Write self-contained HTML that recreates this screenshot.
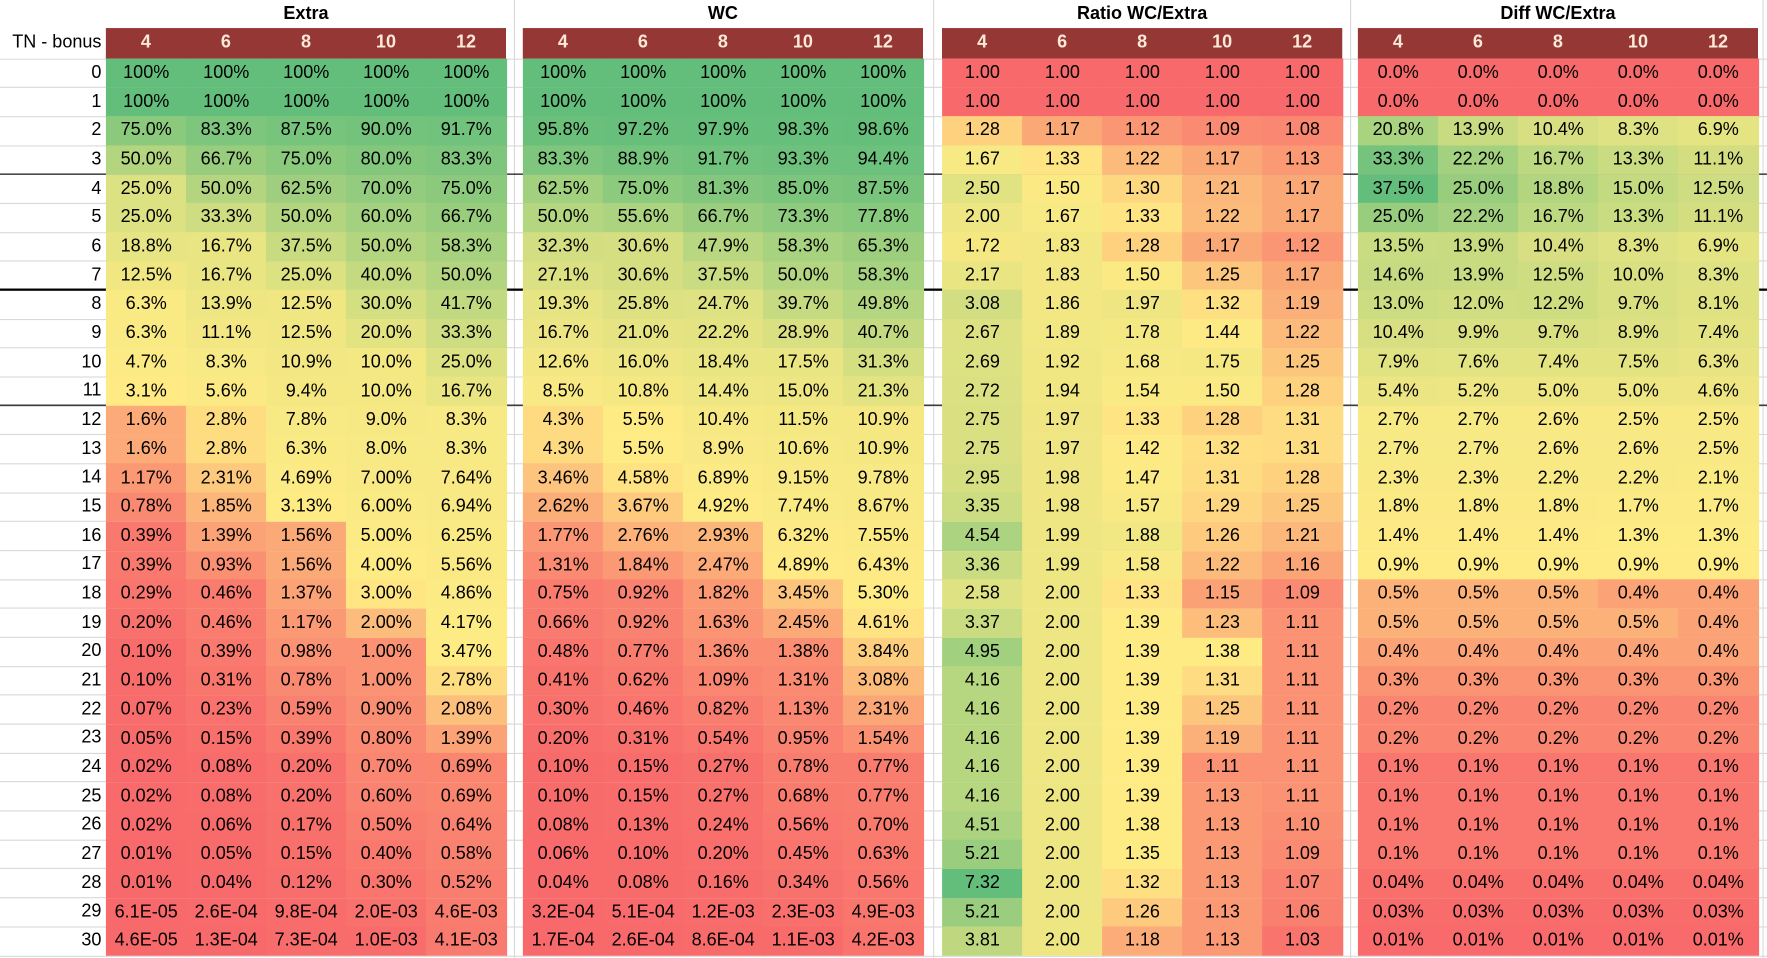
<!DOCTYPE html>
<html><head><meta charset="utf-8"><style>
html,body{margin:0;padding:0;background:#fff;overflow:hidden}
#wrap{width:1767px;height:958px;position:relative;overflow:hidden}
#t{position:absolute;left:0;top:0;width:1568px;height:850px;transform-origin:0 0;transform:scale(1.12691,1.12706);font-family:"Liberation Sans",sans-serif;color:#000}
.c{position:absolute;box-sizing:border-box;font-size:16px;display:flex;align-items:center;justify-content:center;white-space:nowrap}
.h{background:#953735;color:#fde9d9;font-weight:bold;font-size:16px}
.ttl{font-weight:bold;font-size:16px}
.ln{position:absolute}
</style></head><body>
<div id="wrap"><div id="t"></div></div>
<script>
const sections = ["Extra","WC","Ratio WC/Extra","Diff WC/Extra"];
const bonuses = ["4","6","8","10","12"];
const tnRows = [0,1,2,3,4,5,6,7,8,9,10,11,12,13,14,15,16,17,18,19,20,21,22,23,24,25,26,27,28,29,30];
const extraVals = [
"100% 100% 100% 100% 100%","100% 100% 100% 100% 100%",
"75.0% 83.3% 87.5% 90.0% 91.7%","50.0% 66.7% 75.0% 80.0% 83.3%",
"25.0% 50.0% 62.5% 70.0% 75.0%","25.0% 33.3% 50.0% 60.0% 66.7%",
"18.8% 16.7% 37.5% 50.0% 58.3%","12.5% 16.7% 25.0% 40.0% 50.0%",
"6.3% 13.9% 12.5% 30.0% 41.7%","6.3% 11.1% 12.5% 20.0% 33.3%",
"4.7% 8.3% 10.9% 10.0% 25.0%","3.1% 5.6% 9.4% 10.0% 16.7%",
"1.6% 2.8% 7.8% 9.0% 8.3%","1.6% 2.8% 6.3% 8.0% 8.3%",
"1.17% 2.31% 4.69% 7.00% 7.64%","0.78% 1.85% 3.13% 6.00% 6.94%",
"0.39% 1.39% 1.56% 5.00% 6.25%","0.39% 0.93% 1.56% 4.00% 5.56%",
"0.29% 0.46% 1.37% 3.00% 4.86%","0.20% 0.46% 1.17% 2.00% 4.17%",
"0.10% 0.39% 0.98% 1.00% 3.47%","0.10% 0.31% 0.78% 1.00% 2.78%",
"0.07% 0.23% 0.59% 0.90% 2.08%","0.05% 0.15% 0.39% 0.80% 1.39%",
"0.02% 0.08% 0.20% 0.70% 0.69%","0.02% 0.08% 0.20% 0.60% 0.69%",
"0.02% 0.06% 0.17% 0.50% 0.64%","0.01% 0.05% 0.15% 0.40% 0.58%",
"0.01% 0.04% 0.12% 0.30% 0.52%","6.1E-05 2.6E-04 9.8E-04 2.0E-03 4.6E-03",
"4.6E-05 1.3E-04 7.3E-04 1.0E-03 4.1E-03"];
const wcVals = [
"100% 100% 100% 100% 100%","100% 100% 100% 100% 100%",
"95.8% 97.2% 97.9% 98.3% 98.6%","83.3% 88.9% 91.7% 93.3% 94.4%",
"62.5% 75.0% 81.3% 85.0% 87.5%","50.0% 55.6% 66.7% 73.3% 77.8%",
"32.3% 30.6% 47.9% 58.3% 65.3%","27.1% 30.6% 37.5% 50.0% 58.3%",
"19.3% 25.8% 24.7% 39.7% 49.8%","16.7% 21.0% 22.2% 28.9% 40.7%",
"12.6% 16.0% 18.4% 17.5% 31.3%","8.5% 10.8% 14.4% 15.0% 21.3%",
"4.3% 5.5% 10.4% 11.5% 10.9%","4.3% 5.5% 8.9% 10.6% 10.9%",
"3.46% 4.58% 6.89% 9.15% 9.78%","2.62% 3.67% 4.92% 7.74% 8.67%",
"1.77% 2.76% 2.93% 6.32% 7.55%","1.31% 1.84% 2.47% 4.89% 6.43%",
"0.75% 0.92% 1.82% 3.45% 5.30%","0.66% 0.92% 1.63% 2.45% 4.61%",
"0.48% 0.77% 1.36% 1.38% 3.84%","0.41% 0.62% 1.09% 1.31% 3.08%",
"0.30% 0.46% 0.82% 1.13% 2.31%","0.20% 0.31% 0.54% 0.95% 1.54%",
"0.10% 0.15% 0.27% 0.78% 0.77%","0.10% 0.15% 0.27% 0.68% 0.77%",
"0.08% 0.13% 0.24% 0.56% 0.70%","0.06% 0.10% 0.20% 0.45% 0.63%",
"0.04% 0.08% 0.16% 0.34% 0.56%","3.2E-04 5.1E-04 1.2E-03 2.3E-03 4.9E-03",
"1.7E-04 2.6E-04 8.6E-04 1.1E-03 4.2E-03"];
const ratioVals = [
"1.00 1.00 1.00 1.00 1.00","1.00 1.00 1.00 1.00 1.00",
"1.28 1.17 1.12 1.09 1.08","1.67 1.33 1.22 1.17 1.13",
"2.50 1.50 1.30 1.21 1.17","2.00 1.67 1.33 1.22 1.17",
"1.72 1.83 1.28 1.17 1.12","2.17 1.83 1.50 1.25 1.17",
"3.08 1.86 1.97 1.32 1.19","2.67 1.89 1.78 1.44 1.22",
"2.69 1.92 1.68 1.75 1.25","2.72 1.94 1.54 1.50 1.28",
"2.75 1.97 1.33 1.28 1.31","2.75 1.97 1.42 1.32 1.31",
"2.95 1.98 1.47 1.31 1.28","3.35 1.98 1.57 1.29 1.25",
"4.54 1.99 1.88 1.26 1.21","3.36 1.99 1.58 1.22 1.16",
"2.58 2.00 1.33 1.15 1.09","3.37 2.00 1.39 1.23 1.11",
"4.95 2.00 1.39 1.38 1.11","4.16 2.00 1.39 1.31 1.11",
"4.16 2.00 1.39 1.25 1.11","4.16 2.00 1.39 1.19 1.11",
"4.16 2.00 1.39 1.11 1.11","4.16 2.00 1.39 1.13 1.11",
"4.51 2.00 1.38 1.13 1.10","5.21 2.00 1.35 1.13 1.09",
"7.32 2.00 1.32 1.13 1.07","5.21 2.00 1.26 1.13 1.06",
"3.81 2.00 1.18 1.13 1.03"];
const diffVals = [
"0.0% 0.0% 0.0% 0.0% 0.0%","0.0% 0.0% 0.0% 0.0% 0.0%",
"20.8% 13.9% 10.4% 8.3% 6.9%","33.3% 22.2% 16.7% 13.3% 11.1%",
"37.5% 25.0% 18.8% 15.0% 12.5%","25.0% 22.2% 16.7% 13.3% 11.1%",
"13.5% 13.9% 10.4% 8.3% 6.9%","14.6% 13.9% 12.5% 10.0% 8.3%",
"13.0% 12.0% 12.2% 9.7% 8.1%","10.4% 9.9% 9.7% 8.9% 7.4%",
"7.9% 7.6% 7.4% 7.5% 6.3%","5.4% 5.2% 5.0% 5.0% 4.6%",
"2.7% 2.7% 2.6% 2.5% 2.5%","2.7% 2.7% 2.6% 2.6% 2.5%",
"2.3% 2.3% 2.2% 2.2% 2.1%","1.8% 1.8% 1.8% 1.7% 1.7%",
"1.4% 1.4% 1.4% 1.3% 1.3%","0.9% 0.9% 0.9% 0.9% 0.9%",
"0.5% 0.5% 0.5% 0.4% 0.4%","0.5% 0.5% 0.5% 0.5% 0.4%",
"0.4% 0.4% 0.4% 0.4% 0.4%","0.3% 0.3% 0.3% 0.3% 0.3%",
"0.2% 0.2% 0.2% 0.2% 0.2%","0.2% 0.2% 0.2% 0.2% 0.2%",
"0.1% 0.1% 0.1% 0.1% 0.1%","0.1% 0.1% 0.1% 0.1% 0.1%",
"0.1% 0.1% 0.1% 0.1% 0.1%","0.1% 0.1% 0.1% 0.1% 0.1%",
"0.04% 0.04% 0.04% 0.04% 0.04%","0.03% 0.03% 0.03% 0.03% 0.03%",
"0.01% 0.01% 0.01% 0.01% 0.01%"];
const sectionData = [extraVals, wcVals, ratioVals, diffVals];
const majorBreaks = [3,7,11];

const T = document.getElementById('t');
const secLeft = [94,464,836,1205], secW = 355, colW = secW/5;
const titleH = 25, headTop = 25, headH = 26.5, rowTop = 52, rowH = (848-52)/31;
function rowY(i){return rowTop + i*rowH;}
function colX(s,j){return secLeft[s] + j*colW;}
function parseV(str){return str.endsWith('%') ? parseFloat(str)/100 : parseFloat(str);}
const RED=[248,105,107], YEL=[255,235,132], GRN=[99,190,123];
function mix(a,b,t){return 'rgb('+a.map((v,k)=>Math.round(v+(b[k]-v)*t)).join(',')+')';}
function scaleFor(vals){
  const s=[...vals].sort((a,b)=>a-b), n=s.length;
  const min=s[0], max=s[n-1], p=(n-1)*0.5, lo=Math.floor(p);
  const mid=s[lo]+(s[Math.min(lo+1,n-1)]-s[lo])*(p-lo);
  return v=> v<=mid ? mix(RED,YEL,mid>min?(v-min)/(mid-min):1) : mix(YEL,GRN,max>mid?(v-mid)/(max-mid):1);
}
function add(cls,x,y,w,h,txt,name,style){
  const d=document.createElement('div');
  d.className=cls;
  d.style.cssText=`left:${x}px;top:${y}px;width:${w}px;height:${h}px;`+(style||'');
  if(txt!==undefined) d.textContent=txt;
  
  
  T.appendChild(d);return d;
}
// light gridlines
for(let i=0;i<=31;i++){
  const l=add('ln',0,rowY(i)-0.5,1568,1,undefined,'grid-line','background:#d9d9d9');
}
[456,828,1198,1564].forEach(x=>{
  add('ln',x,0,1,850,undefined,'grid-line-vertical','background:#d9d9d9');
});
// major lines
majorBreaks.forEach(r=>{
  add('ln',0,rowY(r+1)-1,1568,1.3,undefined,'group-divider','background:#000');
});
// label column
add('c',0,headTop,92,headH,'TN - bonus','row-header-title','justify-content:flex-end;padding-right:2px;background:#fff');
tnRows.forEach((r,i)=>{
  add('c',0,rowY(i),92,rowH,String(r),'tn-label','justify-content:flex-end;padding-right:2px');
});
sectionData.forEach((rows,s)=>{
  add('c ttl',secLeft[s],0,secW,titleH,sections[s],'section-title','background:#fff');
  add('c h',secLeft[s],headTop,secW,headH,'','header-band');
  bonuses.forEach((b,j)=>add('c h',colX(s,j),headTop,colW,headH,b,'bonus-header'));
  const grid=rows.map(r=>r.split(' '));
  const all=[];grid.forEach(r=>r.forEach(v=>all.push(parseV(v))));
  const col=scaleFor(all);
  grid.forEach((r,i)=>r.forEach((v,j)=>{
    add('c',colX(s,j),rowY(i),colW+0.5,rowH+0.5,v,'heat-cell','background:'+col(parseV(v)));
  }));
});
</script>
</body></html>
